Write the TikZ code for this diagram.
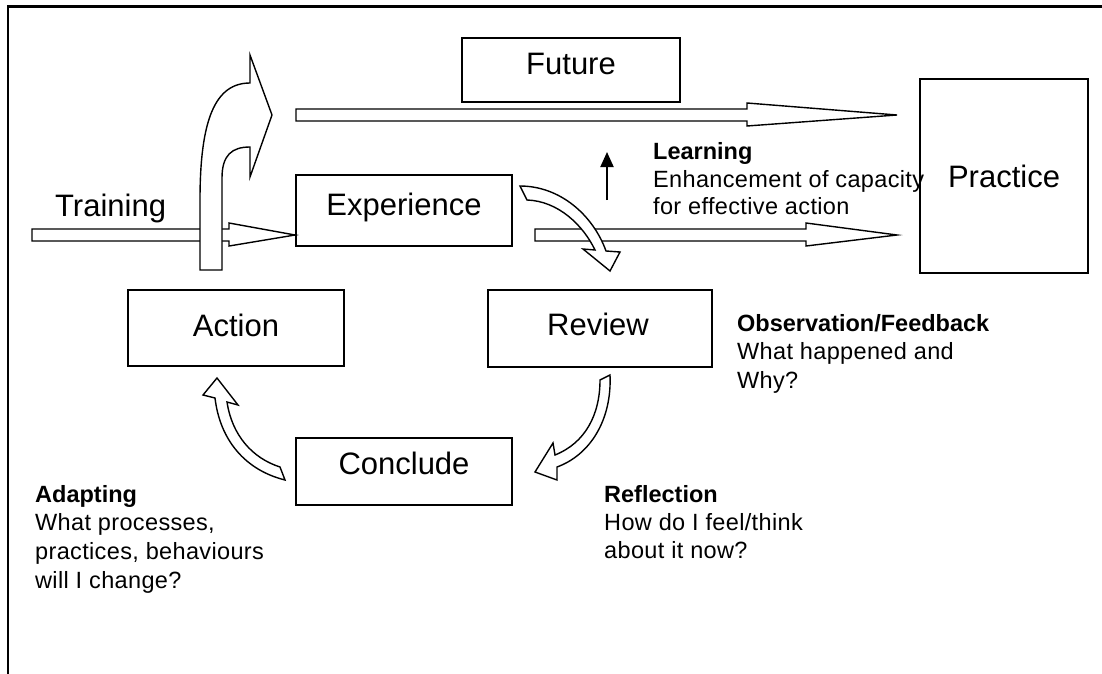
\documentclass[tikz,border=0pt]{standalone}
\usepackage{fontspec}
\setmainfont{Liberation Sans}
\newfontfamily\spacedfont[LetterSpace=1.5]{Liberation Sans}
\usetikzlibrary{arrows.meta}
\begin{document}
\begin{tikzpicture}[x=1pt,y=-1pt,
  box/.style={draw, line width=1.5pt, inner sep=0pt},
  big/.style={font=\fontsize{31}{36}\selectfont, inner sep=0pt, anchor=base},
  small/.style={font=\spacedfont\fontsize{23.5}{28}\selectfont, inner sep=0pt, anchor=base west},
  smallbold/.style={font=\bfseries\fontsize{23.5}{28}\selectfont, inner sep=0pt, anchor=base west},
  blk/.style={draw, fill=white, line width=1.4pt, line join=miter},
  framestyle/.style={line width=2.2pt}]
\useasboundingbox (0,0) rectangle (1102,674);
% frame
\coordinate (fr1) at (1102,6.5);
\coordinate (fr2) at (8,6.5);
\coordinate (fr3) at (8,674);
\draw[framestyle] (fr1) -- (fr2) -- (fr3);
% boxes
\node[box, minimum width=218pt, minimum height=64pt] (future) at (571,70) {};
\node[box, minimum width=216pt, minimum height=71pt] (experience) at (404,210.5) {};
\node[box, minimum width=168pt, minimum height=194pt] (practice) at (1004,176) {};
\node[box, minimum width=216pt, minimum height=76pt] (action) at (236,328) {};
\node[box, minimum width=224pt, minimum height=77pt] (review) at (600,328.5) {};
\node[box, minimum width=216pt, minimum height=67pt] (conclude) at (404,471.5) {};
% box texts
\node[big] (futuret) at (571,75) {Future};
\node[big] (experiencet) at (404,215) {Experience};
\node[big] (practicet) at (1004,187) {Practice};
\node[big] (actiont) at (236,336) {Action};
\node[big] (reviewt) at (598,335) {Review};
\node[big] (concludet) at (404,474) {Conclude};
\node[big, anchor=base west] (trainingt) at (55,216) {Training};
% training arrow
\draw[blk] (32,229) -- (229,229) -- (229,223) -- (295,235) -- (229,246) -- (229,241) -- (32,241) -- cycle;
% bent arrow up and right
\draw[blk] (200,270) -- (200,200) .. controls (200,120) and (215,83) .. (250,83) -- (250,55) -- (272,115) -- (250,177) -- (250,147) .. controls (232,147) and (222,155) .. (222,178) -- (222,270) -- cycle;
% future arrow
\draw[blk] (296,109) -- (747,109) -- (747,103) -- (897,115) -- (747,126) -- (747,121) -- (296,121) -- cycle;
% experience to practice arrow
\draw[blk] (535,229) -- (806,229) -- (806,223) -- (897,235) -- (806,246) -- (806,241) -- (535,241) -- cycle;
% experience to review curved arrow
\draw[blk] (520,186) .. controls (560,186) and (593,215) .. (606,251) -- (620,252) -- (610,271) -- (583,249) -- (595,250) .. controls (583,225) and (558,201) .. (527,200) -- cycle;
% review to conclude curved arrow
\draw[blk] (610,375) .. controls (612,420) and (590,455) .. (557,467) -- (557,480) -- (535,472) -- (553,443) -- (555,455) .. controls (585,443) and (600,415) .. (600,380) -- cycle;
% conclude to action curved arrow
\draw[blk] (285,480) .. controls (245,470) and (220,440) .. (215,398) -- (203,395) -- (217,378) -- (238,405) -- (227,402) .. controls (232,435) and (252,458) .. (280,467) -- cycle;
% learning up arrow
\coordinate (up1) at (607,200);
\coordinate (up2) at (607,152);
\draw[line width=2pt, -{Triangle[length=15pt,width=13pt]}] (up1) -- (up2);
% labels
\node[smallbold] (l1) at (653,159) {Learning};
\node[small] (l2) at (653,187) {Enhancement of capacity};
\node[small] (l3) at (653,214) {for effective action};
\node[smallbold] (o1) at (737,331) {Observation/Feedback};
\node[small] (o2) at (737,359.5) {What happened and};
\node[small] (o3) at (737,388) {Why?};
\node[smallbold] (r1) at (604,502) {Reflection};
\node[small] (r2) at (604,530) {How do I feel/think};
\node[small] (r3) at (604,558) {about it now?};
\node[smallbold] (a1) at (35,502) {Adapting};
\node[small] (a2) at (35,530.5) {What processes,};
\node[small] (a3) at (35,559.5) {practices, behaviours};
\node[small] (a4) at (35,588) {will I change?};
\end{tikzpicture}
\end{document}
